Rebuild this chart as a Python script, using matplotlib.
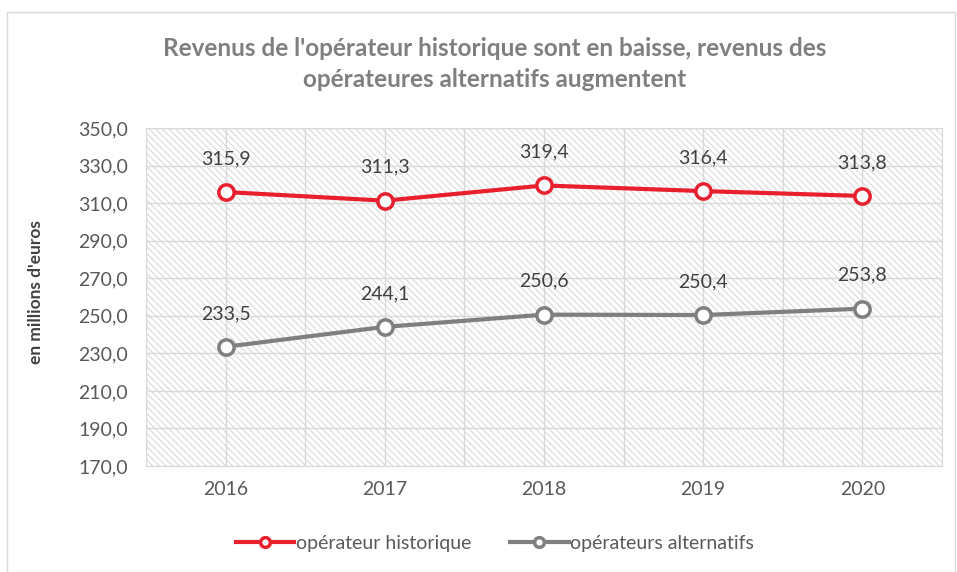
import matplotlib.pyplot as plt
from matplotlib.patches import Rectangle
from matplotlib.lines import Line2D

annees = ['2016', '2017', '2018', '2019', '2020']
historique = [315.9, 311.3, 319.4, 316.4, 313.8]
alternatifs = [233.5, 244.1, 250.6, 250.4, 253.8]
yticks = [170, 190, 210, 230, 250, 270, 290, 310, 330, 350]

rouge = '#E8202E'
gris = '#7F7F7F'
texte = '#595959'

plt.rcParams['font.family'] = ['Lato', 'DejaVu Sans']
plt.rcParams['hatch.color'] = '#D9D9D9'
plt.rcParams['hatch.linewidth'] = 0.8

fig = plt.figure(figsize=(9.57, 5.72), dpi=100)
ax = fig.add_axes([146 / 957, 1 - 466 / 572, 796 / 957, 338 / 572])

ax.patch.set_facecolor('white')
ax.patch.set_hatch('\\\\\\\\\\')
ax.patch.set_edgecolor('#D9D9D9')

x = list(range(len(annees)))
ax.set_xlim(-0.5, len(annees) - 0.5)
ax.set_ylim(170, 350)

# grille
for yv in yticks:
    ax.axhline(yv, color='#D9D9D9', lw=1, zorder=1)
for i in range(2 * len(annees) + 1):
    ax.axvline(-0.5 + i * 0.5, color='#D9D9D9', lw=1, zorder=1)

ax.plot(x, historique, color=rouge, lw=3, marker='o', ms=11,
        mfc='white', mec=rouge, mew=2.5, zorder=3)
ax.plot(x, alternatifs, color=gris, lw=3, marker='o', ms=11,
        mfc='white', mec=gris, mew=2.5, zorder=3)

for serie in (historique, alternatifs):
    for xi, v in zip(x, serie):
        ax.annotate(f'{v:.1f}'.replace('.', ','), (xi, v), xytext=(0, 24),
                    textcoords='offset points', ha='center', va='center',
                    fontsize=14, color='#404040')

ax.set_xticks(x)
ax.set_xticklabels(annees)
ax.set_yticks(yticks)
ax.set_yticklabels([f'{v:.1f}'.replace('.', ',') for v in yticks])
ax.tick_params(length=0, labelsize=14, colors=texte)
ax.tick_params(axis='x', pad=11)
ax.tick_params(axis='y', pad=13)
for s in ax.spines.values():
    s.set_color('#D9D9D9')

ax.set_ylabel("en millions d'euros", fontsize=12.5, fontweight='bold',
              color='#404040')
ax.yaxis.set_label_coords(-0.128, 0.515)

fig.text(495 / 957, 1 - 64 / 572,
         "Revenus de l'opérateur historique sont en baisse, revenus des\n"
         "opérateures alternatifs augmentent",
         ha='center', va='center', fontsize=17.5, fontweight='bold',
         color=gris, linespacing=1.4)

poignees = [
    Line2D([], [], color=rouge, lw=3, marker='o', ms=7, mfc='white',
           mec=rouge, mew=2.5),
    Line2D([], [], color=gris, lw=3, marker='o', ms=7, mfc='white',
           mec=gris, mew=2.5),
]
fig.legend(poignees, ['opérateur historique', 'opérateurs alternatifs'],
           loc='center', bbox_to_anchor=(495 / 957, 1 - 543 / 572),
           ncol=2, frameon=False, fontsize=14, labelcolor=texte,
           handlelength=3.0, handletextpad=0.1, columnspacing=2.0)

fig.patches.append(Rectangle((7 / 957, 0), 948 / 957, 1 - 12 / 572,
                             transform=fig.transFigure, fill=False,
                             edgecolor='#D9D9D9', lw=1))

fig.savefig('out.png', dpi=100)
